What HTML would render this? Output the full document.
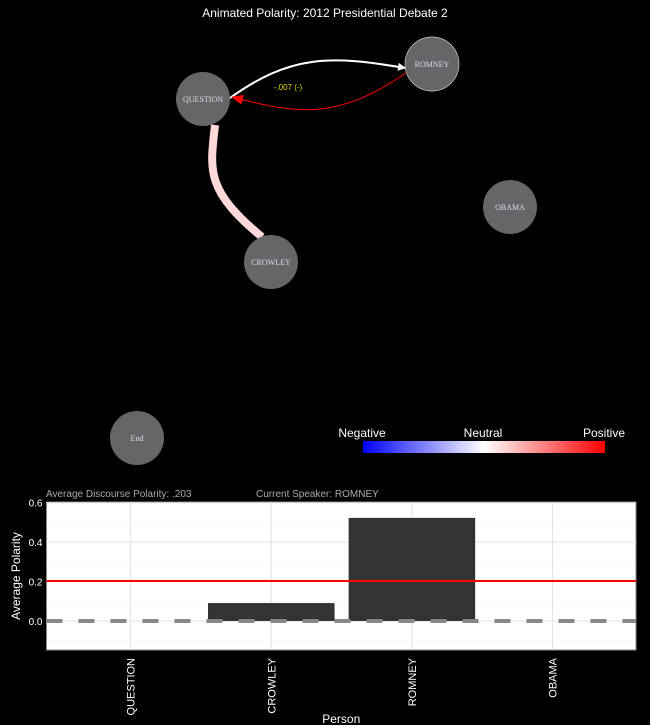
<!DOCTYPE html>
<html><head><meta charset="utf-8"><style>
body{margin:0;background:#000;width:650px;height:725px;overflow:hidden}
svg{display:block}
text{font-family:"Liberation Sans",sans-serif}
</style></head><body>
<svg id="c" width="650" height="725">
<defs>
<linearGradient id="g" x1="0" x2="1"><stop offset="0" stop-color="#00f"/><stop offset="0.5" stop-color="#fff"/><stop offset="1" stop-color="#f00"/></linearGradient>
<marker id="aw" markerWidth="8" markerHeight="8" refX="7" refY="4" orient="auto" markerUnits="userSpaceOnUse"><path d="M0,0L8,4L0,8Z" fill="#fff"/></marker>
<marker id="ar" markerWidth="12" markerHeight="10" refX="11" refY="5" orient="auto" markerUnits="userSpaceOnUse"><path d="M0,0L12,5L0,10Z" fill="#f00"/></marker>
</defs>
<text x="325" y="17" fill="#fff" font-size="12" text-anchor="middle">Animated Polarity: 2012 Presidential Debate 2</text>
<path d="M215,125 C210,170 205,190 262,237" stroke="#ffd8d8" stroke-width="8" fill="none"/>
<path d="M230,98 C290,55 330,55 405,68" stroke="#fff" stroke-width="2" fill="none" marker-end="url(#aw)"/>
<path d="M410,70 C340,120 300,115 232,97" stroke="#f00" stroke-width="1" fill="none" marker-end="url(#ar)"/>
<text x="288" y="90" fill="#e8d800" font-size="8" text-anchor="middle">-.007 (-)</text>
<g font-size="8" fill="#dde" text-anchor="middle">
<circle cx="203" cy="99" r="27" fill="#666"/><text x="203" y="102" style="font-family:'Liberation Serif',serif">QUESTION</text>
<circle cx="432" cy="64" r="27" fill="#666" stroke="#ccc" stroke-width="0.7"/><text x="432" y="67" style="font-family:'Liberation Serif',serif">ROMNEY</text>
<circle cx="510" cy="207" r="27" fill="#666"/><text x="510" y="210" style="font-family:'Liberation Serif',serif">OBAMA</text>
<circle cx="271" cy="262" r="27" fill="#666"/><text x="271" y="265" style="font-family:'Liberation Serif',serif">CROWLEY</text>
<circle cx="137" cy="438" r="27" fill="#666"/><text x="137" y="441" style="font-family:'Liberation Serif',serif">End</text>
</g>
<rect x="363" y="441" width="242" height="12" fill="url(#g)"/>
<text x="362" y="437" fill="#fff" font-size="12" text-anchor="middle">Negative</text>
<text x="483" y="437" fill="#fff" font-size="12" text-anchor="middle">Neutral</text>
<text x="604" y="437" fill="#fff" font-size="12" text-anchor="middle">Positive</text>
<text x="46" y="497" fill="#aaa" font-size="10">Average Discourse Polarity:  .203</text>
<text x="256" y="497" fill="#aaa" font-size="10">Current Speaker:   ROMNEY</text>
<g id="bars"></g>
</svg>
<script>
const categories=["QUESTION","CROWLEY","ROMNEY","OBAMA"];
const values=[0,0.091,0.523,0];
const avgPolarity=0.203;
const yTicks=[0,0.2,0.4,0.6];
const yTickLabels=["0.0","0.2","0.4","0.6"];
const NS="http://www.w3.org/2000/svg";
const g=document.getElementById('bars');
const L=46.5,R=636,T=502,B=650;
const y=v=>621-v*(621-502.7)/0.6;
const step=140.6;
const x=i=>130.7+step*i;
function mk(t,a,p){const e=document.createElementNS(NS,t);for(const k in a)e.setAttribute(k,a[k]);(p||g).appendChild(e);return e;}
let bg=mk('rect',{x:L,y:T,width:R-L,height:B-T,fill:'#fff',stroke:'#888'});


for(let v=-0.1;v<=0.6;v+=0.2){mk('line',{x1:L,x2:R,y1:y(v),y2:y(v),stroke:'#f0f0f0','stroke-width':0.5});}
yTicks.forEach((v,i)=>{
 const gl=mk('line',{x1:L,x2:R,y1:y(v),y2:y(v),stroke:'#e3e3e3','stroke-width':1});
 
 
 const t=mk('text',{x:L-4,y:y(v)+4,fill:'#fff','font-size':10,'text-anchor':'end'});t.textContent=yTickLabels[i];
 
 
});
categories.forEach((c,i)=>{
 mk('line',{x1:x(i),x2:x(i),y1:T,y2:B,stroke:'#e3e3e3','stroke-width':1});
});
categories.forEach((c,i)=>{
 const v=values[i];
 const w=step*0.9;
 const r=mk('rect',{x:x(i)-w/2,y:Math.min(y(v),y(0)),width:w,height:Math.abs(y(0)-y(v)),fill:'#333'});
 
 
 const t=mk('text',{transform:`translate(${x(i)+4},${B+8}) rotate(-90)`,fill:'#fff','font-size':11,'text-anchor':'end'});t.textContent=c;
 
 
});
const zl=mk('line',{x1:L,x2:R,y1:y(0),y2:y(0),stroke:'#888','stroke-width':4,'stroke-dasharray':'16 16'});


const al=mk('line',{x1:L,x2:R,y1:y(avgPolarity),y2:y(avgPolarity),stroke:'#f00','stroke-width':2});


const yt=mk('text',{transform:`translate(20,${(T+B)/2}) rotate(-90)`,fill:'#fff','font-size':12,'text-anchor':'middle'});yt.textContent='Average Polarity';


const xt=mk('text',{x:(L+R)/2,y:723,fill:'#fff','font-size':12,'text-anchor':'middle'});xt.textContent='Person';


</script>
</body></html>
